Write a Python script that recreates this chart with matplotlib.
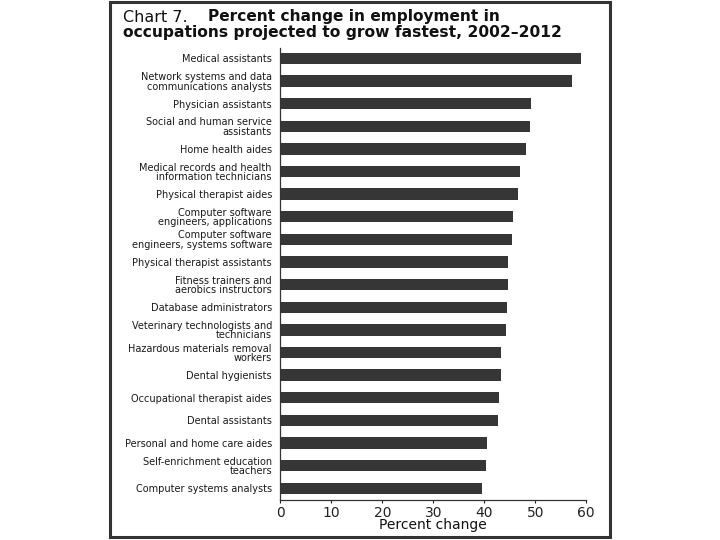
import matplotlib
matplotlib.use("Agg")
import matplotlib.pyplot as plt
from matplotlib.patches import Rectangle

occupations = [
    "Medical assistants",
    "Network systems and data\ncommunications analysts",
    "Physician assistants",
    "Social and human service\nassistants",
    "Home health aides",
    "Medical records and health\ninformation technicians",
    "Physical therapist aides",
    "Computer software\nengineers, applications",
    "Computer software\nengineers, systems software",
    "Physical therapist assistants",
    "Fitness trainers and\naerobics instructors",
    "Database administrators",
    "Veterinary technologists and\ntechnicians",
    "Hazardous materials removal\nworkers",
    "Dental hygienists",
    "Occupational therapist aides",
    "Dental assistants",
    "Personal and home care aides",
    "Self-enrichment education\nteachers",
    "Computer systems analysts",
]
pct_change = [59.0, 57.2, 49.1, 48.9, 48.2, 47.0, 46.7, 45.7, 45.5, 44.7,
              44.6, 44.4, 44.2, 43.3, 43.3, 42.9, 42.7, 40.6, 40.3, 39.5]
x_ticks = [0, 10, 20, 30, 40, 50, 60]

plt.rcParams['font.family'] = ['DejaVu Sans']
W, H = 720, 540
fig = plt.figure(figsize=(7.2, 5.4), dpi=100)
fig.patch.set_facecolor("white")

ax = fig.add_axes([280.3 / W, 1 - 500 / H, (586.3 - 280.3) / W, (500 - 48) / H])
ypos = list(range(len(occupations)))
ax.barh(ypos, pct_change, height=0.5, color="#363636", edgecolor="none")
ax.set_xlim(0, 60)
ax.set_ylim(19.52, -0.46)
ax.set_yticks(ypos)
ax.set_yticklabels(occupations, fontsize=7, linespacing=0.95, color="#1a1a1a")
ax.tick_params(axis="y", length=0, pad=6)
ax.set_xticks(x_ticks)
ax.set_xticklabels([str(t) for t in x_ticks], fontsize=10, color="#111111")
ax.tick_params(axis="x", direction="out", length=2.5, width=0.8, pad=1.5, colors="#222222")
ax.set_xlabel("Percent change", fontsize=10, labelpad=-1, color="#111111")
for s in ["top", "right"]:
    ax.spines[s].set_visible(False)
for s in ["left", "bottom"]:
    ax.spines[s].set_color("#333333")
    ax.spines[s].set_linewidth(0.9)

fig.text(122.7 / W, 1 - 21.5 / H, "Chart 7.", fontsize=11.5, color="#111111",
         ha="left", va="baseline")
fig.text(208 / W, 1 - 21.5 / H, "Percent change in employment in", fontsize=11.1,
         fontweight="bold", color="#111111", ha="left", va="baseline")
fig.text(122.7 / W, 1 - 37.5 / H, "occupations projected to grow fastest, 2002\u20132012",
         fontsize=11.2, fontweight="bold", color="#111111", ha="left", va="baseline")

fig.patches.append(Rectangle((110 / W, 1 - 537 / H), 500 / W, 535 / H,
                             transform=fig.transFigure, fill=False,
                             edgecolor="#333333", linewidth=2.2))

fig.savefig("out.png", dpi=100)
